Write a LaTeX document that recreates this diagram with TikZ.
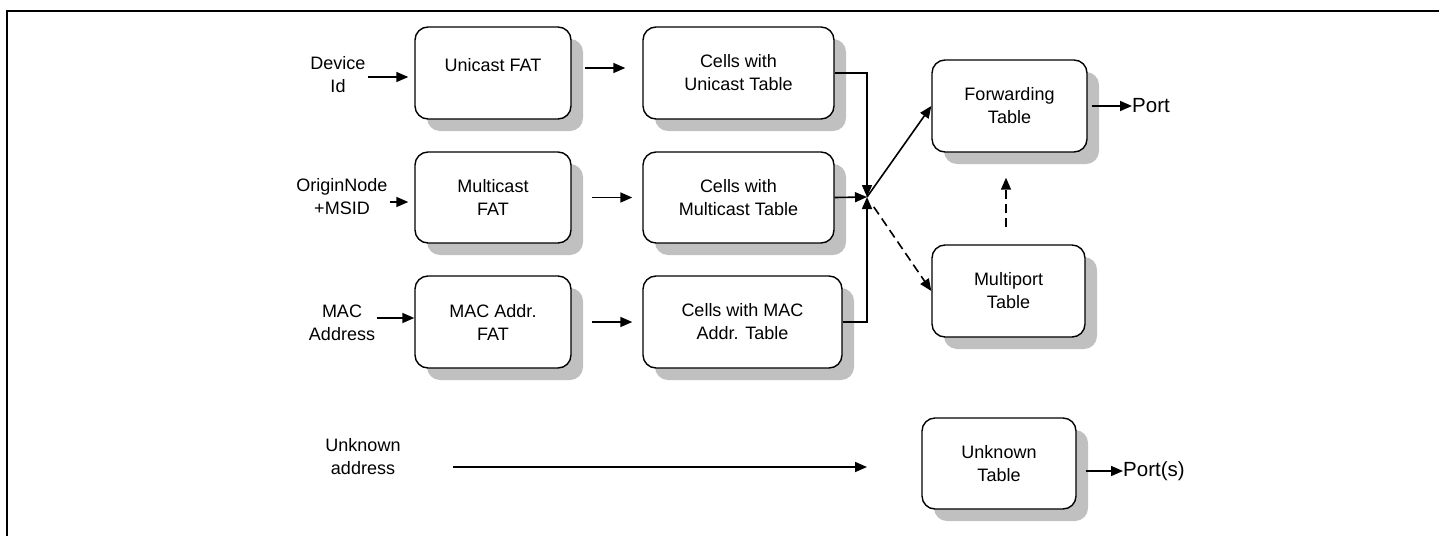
\documentclass[tikz,border=0pt]{standalone}
\usepackage{fontspec}
\setmainfont{Liberation Sans}
\usetikzlibrary{arrows.meta,shadows}
\definecolor{shadowgray}{RGB}{192,192,192}
\begin{document}
\begin{tikzpicture}[x=1pt,y=-1pt,
  font=\fontsize{18}{23}\selectfont,
  box/.style={draw, line width=1.4pt, rounded corners=13pt, fill=white,
    align=center, inner sep=0pt, minimum height=92pt,
    drop shadow={shadow xshift=12pt, shadow yshift=-12pt, fill=shadowgray, opacity=1}},
  lbl/.style={align=center, inner sep=2pt},
  outlbl/.style={anchor=west, inner sep=0pt, font=\fontsize{20.5}{24}\selectfont},
  conn/.style={line width=1.6pt, -{Triangle[length=12pt,width=10pt]}},
  dashconn/.style={conn, dash pattern=on 9pt off 5pt},
]
\useasboundingbox (0,0) rectangle (1439,536);

% frame
\draw[line width=1.2pt] (7,536) -- (7,11) -- (1439,11);

% lookup tables
\node[box, minimum width=156pt, text height=0pt, text depth=3pt] (ufat) at (493,73) {Unicast FAT};
\node[box, minimum width=156pt, minimum height=91pt] (mfat) at (493,197.5) {Multicast\\FAT};
\node[box, minimum width=156pt] (macfat) at (493,322) {MAC Addr.\\FAT};

\node[box, minimum width=191pt] (cu) at (738.5,73) {Cells with\\Unicast Table};
\node[box, minimum width=191pt, minimum height=91pt] (cm) at (738.5,197.5) {Cells with\\Multicast Table};
\node[box, minimum width=199pt] (cmac) at (742.5,322) {Cells with MAC\\Addr. Table};

\node[box, minimum width=155pt] (fwd) at (1009.5,106) {Forwarding\\Table};
\node[box, minimum width=153pt] (mp) at (1008.5,291) {Multiport\\Table};
\node[box, minimum width=154pt, minimum height=91pt] (unk) at (999,463.5) {Unknown\\Table};

% inputs and outputs
\node[lbl] (devid) at (338,75) {Device\\Id};
\node[lbl] (orig) at (342,196.5) {OriginNode\\+MSID};
\node[lbl] (mac) at (342,323) {MAC\\Address};
\node[lbl] (unkaddr) at (363,456.5) {Unknown\\address};
\node[outlbl] (port) at (1132,106) {Port};
\node[outlbl] (ports) at (1123,471) {Port(s)};

\coordinate (jn) at (867,197);
\coordinate (ua0) at (453,467);
\coordinate (ua1) at (867,467);

% input arrows
\draw[conn, shorten >=6pt] ([yshift=-2pt]devid.east) -- ([yshift=-2pt]devid.east -| ufat.west);
\draw[conn, shorten >=6pt] ([yshift=-5.5pt]orig.east) -- ([yshift=-5.5pt]orig.east -| mfat.west);
\draw[conn] ([yshift=5pt]mac.east) -- ([yshift=5pt]mac.east -| macfat.west);

% FAT to cell tables
\draw[conn, shorten <=13pt, shorten >=17pt] ([yshift=5pt]ufat.east) -- ([yshift=5pt]ufat.east -| cu.west);
\draw[conn, shorten <=20pt, shorten >=10pt] (mfat.east) -- (mfat.east -| cm.west);
\draw[conn, shorten <=20pt, shorten >=10pt] (macfat.east) -- (macfat.east -| cmac.west);

% merge into forwarding
\draw[conn] (cu.east) -| (jn);
\draw[conn] (cm.east) -- (jn);
\draw[conn] (cmac.east) -| (jn);
\draw[conn] (jn) -- (fwd.west);
\draw[dashconn, shorten <=12pt] (jn) -- (mp.west);
\draw[dashconn, shorten <=17pt, shorten >=25pt] ([xshift=-2.5pt]mp.north) -- ([xshift=-2.5pt]mp.north |- fwd.south);

% outputs
\draw[conn, shorten <=4pt] (fwd.east) -- (port.west);
\draw[conn, shorten <=9pt] ([yshift=-7.5pt]unk.east) -- (ports.west);
\draw[conn] (ua0) -- (ua1);
\end{tikzpicture}
\end{document}
